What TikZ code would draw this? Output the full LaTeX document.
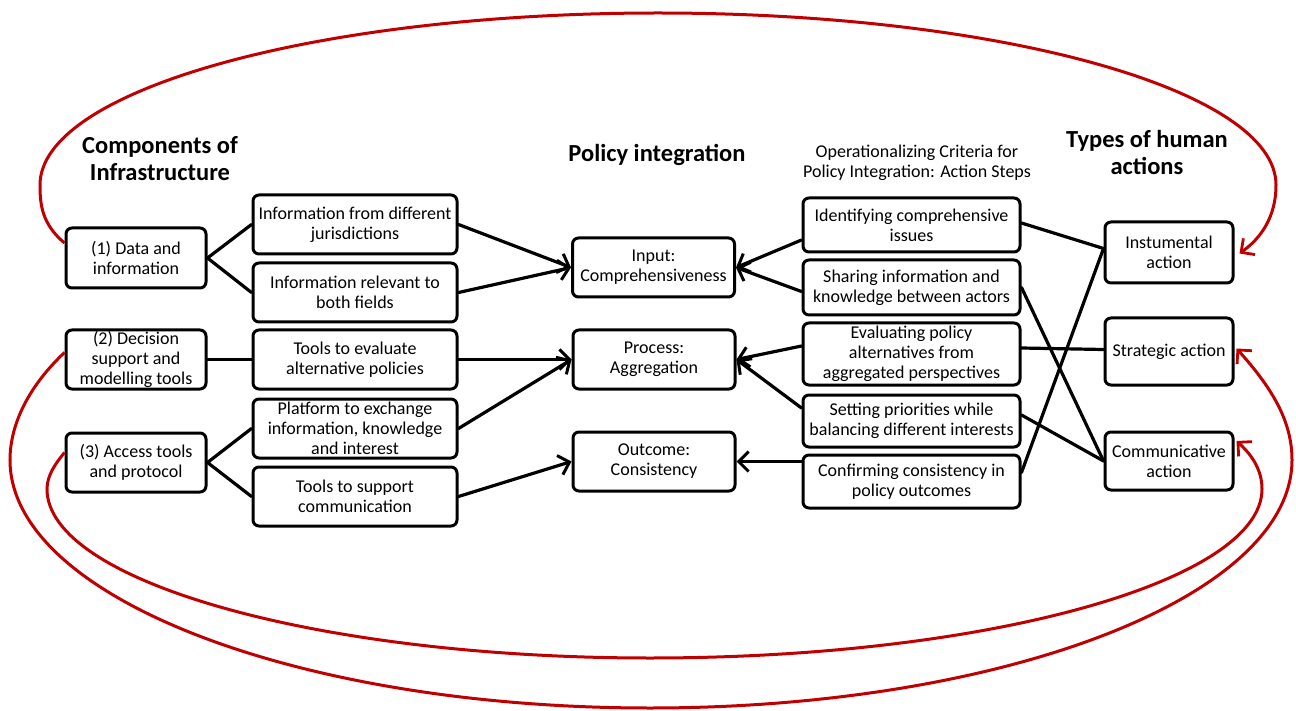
\documentclass[tikz,border=0pt]{standalone}
\usepackage{fontspec}
\setmainfont{Carlito}
\usetikzlibrary{arrows.meta}
\definecolor{loopred}{HTML}{C00000}
\begin{document}
\begin{tikzpicture}[x=1pt,y=-1pt,
  box/.style={draw, line width=3pt, rounded corners=6pt, align=center,
    inner sep=0pt, font=\fontsize{18}{20}\selectfont},
  compbox/.style={box, minimum width=140pt},
  toolbox/.style={box, minimum width=204pt, minimum height=59pt},
  polbox/.style={box, minimum width=162pt, minimum height=59pt},
  stepbox/.style={box, minimum width=217pt},
  actbox/.style={box, minimum width=128pt},
  heading/.style={align=center, inner sep=0pt, font=\fontsize{24.5}{27}\selectfont\bfseries},
  subheading/.style={align=center, inner sep=0pt, font=\fontsize{18}{20}\selectfont},
  conn/.style={line width=3.2pt, line cap=round},
  arr/.style={-{Straight Barb[length=10pt,width=20pt,line width=3pt]}},
  loop/.style={loopred, line width=3pt, -{Straight Barb[length=10pt,width=20pt,line width=2.8pt]}}
]
\useasboundingbox (0,0) rectangle (1296,711);

% column headings
\node[heading] (hcomp) at (160,159) {Components of\\Infrastructure};
\node[heading] (hpol) at (657,155) {Policy integration};
\node[subheading] (hcrit) at (917,163) {Operationalizing Criteria for\\Policy Integration: Action Steps};
\node[heading] (hact) at (1147,152) {Types of human\\actions};

% components of infrastructure
\node[compbox, minimum height=60pt] (d1) at (136,258) {(1) Data and\\information};
\node[compbox, minimum height=59pt] (d2) at (136,359.5) {(2) Decision\\support and\\modelling tools};
\node[compbox, minimum height=59pt] (d3) at (136,462.5) {(3) Access tools\\and protocol};

\node[toolbox] (s1) at (355,224.5) {Information from different\\jurisdictions};
\node[toolbox] (s2) at (355,292.5) {Information relevant to\\both fields};
\node[toolbox] (s3) at (355,359.5) {Tools to evaluate\\alternative policies};
\node[toolbox] (s4) at (355,428.5) {Platform to exchange\\information, knowledge\\and interest};
\node[toolbox] (s5) at (355,496.5) {Tools to support\\communication};

% policy integration
\node[polbox] (p1) at (653.5,267.5) {Input:\\Comprehensiveness};
\node[polbox] (p2) at (654,359.5) {Process:\\Aggregation};
\node[polbox] (p3) at (654,461.5) {Outcome:\\Consistency};

% action steps
\node[stepbox, minimum height=54pt] (a1) at (911.5,225) {Identifying comprehensive\\issues};
\node[stepbox, minimum height=55pt] (a2) at (911.5,287.5) {Sharing information and\\knowledge between actors};
\node[stepbox, minimum height=62pt] (a3) at (911.5,354) {Evaluating policy\\alternatives from\\aggregated perspectives};
\node[stepbox, minimum height=52pt] (a4) at (911.5,421) {Setting priorities while\\balancing different interests};
\node[stepbox, minimum height=53pt] (a5) at (911.5,481.5) {Confirming consistency in\\policy outcomes};

% types of human actions
\node[actbox, minimum height=61pt] (h1) at (1169,252.5) {Instumental\\action};
\node[actbox, minimum height=67pt] (h2) at (1169,351.5) {Strategic action};
\node[actbox, minimum height=58pt] (h3) at (1169,461) {Communicative\\action};

% components to their parts
\draw[conn] (s1.west) -- (d1.east) -- (s2.west);
\draw[conn] (d2.east) -- (s3.west);
\draw[conn] (s4.west) -- (d3.east) -- (s5.west);

% parts to policy integration
\draw[conn, arr] (s1.east) -- (p1.west);
\draw[conn, arr] (s2.east) -- (p1.west);
\draw[conn, arr] (s3.east) -- (p2.west);
\draw[conn, arr] (s4.east) -- (p2.west);
\draw[conn, arr] (s5.east) -- (p3.west);

% action steps to policy integration
\draw[conn, arr] ([yshift=-15pt]a1.west) -- (p1.east);
\draw[conn, arr] ([yshift=-4pt]a2.west) -- (p1.east);
\draw[conn, arr] ([yshift=8pt]a3.west) -- (p2.east);
\draw[conn, arr] ([yshift=13pt]a4.west) -- (p2.east);
\draw[conn, arr] (a5.west |- p3.east) -- (p3.east);

% action steps to types of human action
\draw[conn] ([yshift=2pt]a1.east) -- ([yshift=4pt]h1.west);
\draw[conn] (a2.east) -- (h3.west);
\draw[conn] ([yshift=6pt]a3.east) -- ([yshift=2pt]h2.west);
\draw[conn] ([yshift=6pt]a4.east) -- (h3.west);
\draw[conn] ([yshift=9pt]a5.east) -- ([yshift=4pt]h1.west);

% feedback loops
\draw[loop] ([yshift=15pt]d1.west)
  .. controls (42,224) and (40,205) .. (40,185)
  .. controls (40,90) and (317,13) .. (658,13)
  .. controls (999,13) and (1276,90) .. (1276,185)
  .. controls (1276,208) and (1268,233) .. ([xshift=5pt,yshift=-1pt]h1.east);
\draw[loop] ([yshift=7pt]d2.west)
  .. controls (30,385) and (10,423) .. (10,460)
  .. controls (10,597) and (297,708) .. (650,708)
  .. controls (1003,708) and (1292,597) .. (1292,460)
  .. controls (1292,421) and (1272,388) .. ([xshift=2pt,yshift=3pt]h2.east);
\draw[loop] ([yshift=10pt]d3.west)
  .. controls (56,463) and (47,475) .. (47,489)
  .. controls (47,581) and (317,658) .. (650,658)
  .. controls (988,658) and (1262,581) .. (1262,489)
  .. controls (1262,471) and (1253,456) .. ([xshift=2pt,yshift=20pt]h3.east);
\end{tikzpicture}
\end{document}
